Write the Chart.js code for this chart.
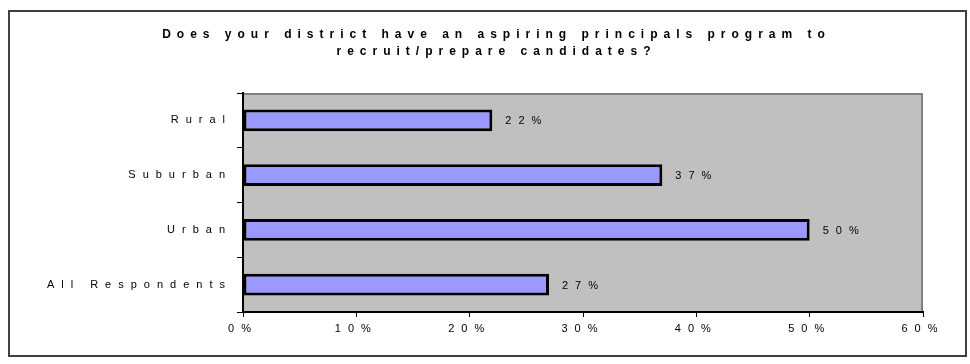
<!DOCTYPE html>
<html>
<head>
<meta charset="utf-8">
<script src="https://cdn.jsdelivr.net/npm/chart.js@4"></script>
<style>
html,body{margin:0;padding:0;background:#fff;}
#wrap{width:970px;height:364px;}
</style>
</head>
<body>
<div id="wrap"><canvas id="c" width="970" height="364"></canvas></div>
<script>
const categories = ['Rural', 'Suburban', 'Urban', 'All Respondents'];
const values = [22, 37, 50, 27];
const titleLines = ['Does your district have an aspiring principals program to', 'recruit/prepare candidates?'];
const xMin = 0, xMax = 60, xStep = 10;

const LABEL_SPACING = '7px';
const TITLE_SPACING = '6px';
const TITLE_SHIFT = 35;
const FONT = '"Liberation Sans", Arial, sans-serif';

const framePlugin = {
  id: 'frame',
  beforeDraw(chart) {
    const ctx = chart.ctx;
    ctx.save();
    ctx.fillStyle = '#ffffff';
    ctx.fillRect(0, 0, chart.width, chart.height);
    ctx.strokeStyle = '#404040';
    ctx.lineWidth = 2;
    ctx.strokeRect(9, 11, 957, 345);
    const a = chart.chartArea;
    ctx.fillStyle = '#c0c0c0';
    ctx.fillRect(a.left, a.top, a.right - a.left, a.bottom - a.top);
    ctx.strokeStyle = '#808080';
    ctx.lineWidth = 2;
    ctx.beginPath();
    ctx.moveTo(a.left, a.top + 1);
    ctx.lineTo(a.right - 1, a.top + 1);
    ctx.lineTo(a.right - 1, a.bottom);
    ctx.stroke();
    ctx.restore();
    ctx.letterSpacing = LABEL_SPACING;
    const tb = chart.titleBlock;
    if (tb && !tb.__spaced) {
      const orig = tb.draw.bind(tb);
      tb.draw = function () {
        const c = this.ctx;
        c.save();
        c.letterSpacing = TITLE_SPACING;
        c.translate(TITLE_SHIFT, 0);
        orig();
        c.restore();
      };
      tb.__spaced = true;
    }
  },
  afterDatasetsDraw(chart) {
    const ctx = chart.ctx;
    const meta = chart.getDatasetMeta(0);
    ctx.save();
    ctx.letterSpacing = LABEL_SPACING;
    ctx.font = '11px ' + FONT;
    ctx.fillStyle = '#000';
    ctx.textAlign = 'left';
    ctx.textBaseline = 'middle';
    meta.data.forEach((el, i) => {
      ctx.fillText(values[i] + '%', el.x + 13, el.y + 1);
    });
    ctx.restore();
  }
};

new Chart(document.getElementById('c'), {
  type: 'bar',
  data: {
    labels: categories,
    datasets: [{
      data: values,
      backgroundColor: '#9999ff',
      borderColor: '#000000',
      borderWidth: 3,
      borderSkipped: false,
      barPercentage: 0.4,
      categoryPercentage: 1.0
    }]
  },
  plugins: [framePlugin],
  options: {
    indexAxis: 'y',
    responsive: false,
    devicePixelRatio: 1,
    animation: false,
    layout: { padding: { left: 0, right: 47, top: 0, bottom: 0 } },
    plugins: {
      legend: { display: false },
      tooltip: { enabled: false },
      title: {
        display: true,
        text: titleLines,
        color: '#000',
        font: { family: FONT, size: 12, weight: 'bold', lineHeight: '17px' },
        padding: { top: 26, bottom: 33 }
      }
    },
    scales: {
      x: {
        min: xMin, max: xMax,
        ticks: {
          stepSize: xStep,
          color: '#000',
          padding: 5,
          font: { family: FONT, size: 11 },
          callback: v => v + '%'
        },
        grid: { drawOnChartArea: false, drawTicks: true, tickLength: 5, color: '#000' },
        border: { color: '#000', width: 2 },
        afterFit(s) { s.height = 52; }
      },
      y: {
        ticks: {
          color: '#000',
          padding: 5,
          font: { family: FONT, size: 11 }
        },
        grid: { drawOnChartArea: false, drawTicks: true, tickLength: 6, color: '#000', offset: true },
        border: { color: '#000', width: 2 },
        afterFit(s) { s.width = 243; }
      }
    }
  }
});
</script>
</body>
</html>
